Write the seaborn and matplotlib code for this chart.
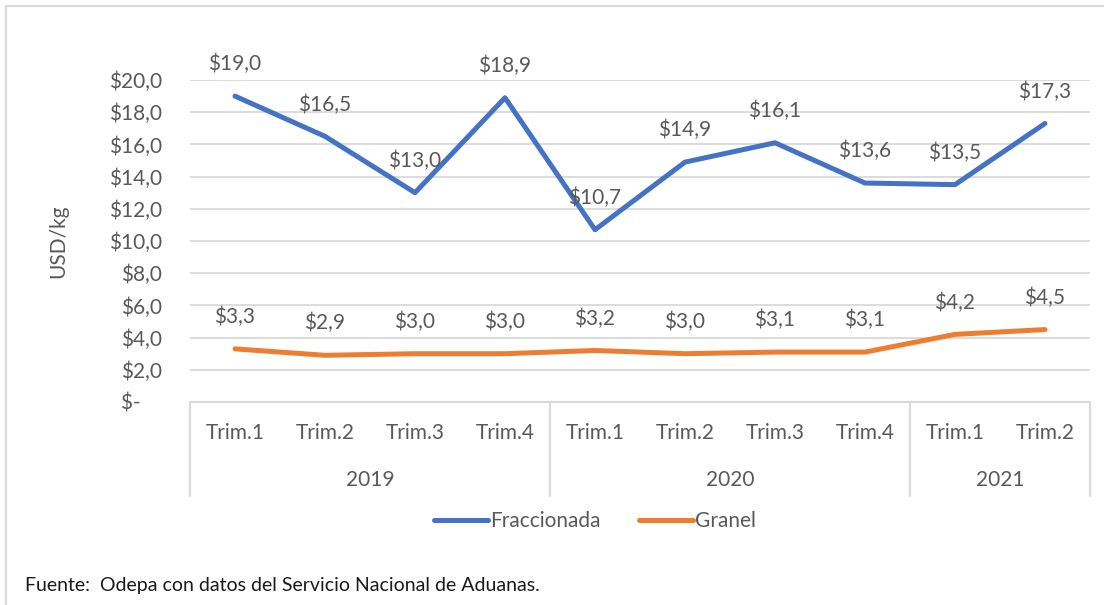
import matplotlib
matplotlib.use("Agg")
import matplotlib.pyplot as plt
import seaborn as sns
import pandas as pd
from matplotlib.lines import Line2D

# ---- data ----
quarters = ["Trim.1", "Trim.2", "Trim.3", "Trim.4",
            "Trim.1", "Trim.2", "Trim.3", "Trim.4",
            "Trim.1", "Trim.2"]
years = ["2019", "2020", "2021"]
year_sizes = [4, 4, 2]
fraccionada = [19.0, 16.5, 13.0, 18.9, 10.7, 14.9, 16.1, 13.6, 13.5, 17.3]
granel = [3.3, 2.9, 3.0, 3.0, 3.2, 3.0, 3.1, 3.1, 4.2, 4.5]
series_names = ["Fraccionada", "Granel"]
colors = ["#4472C4", "#ED7D31"]
y_ticks = [0, 2, 4, 6, 8, 10, 12, 14, 16, 18, 20]

sns.set_theme(style="white")
plt.rcParams["font.family"] = ["Lato", "DejaVu Sans"]

TXT = "#595959"
GRID = "#D9D9D9"
FS = 15

W, H = 1104, 605
fig = plt.figure(figsize=(W / 100, H / 100), dpi=100)
L, R, T, B = 190, 1090, 80, 402
ax = fig.add_axes([L / W, 1 - B / H, (R - L) / W, (B - T) / H])

n = len(quarters)
df = pd.DataFrame({
    "idx": list(range(n)) * 2,
    "value": fraccionada + granel,
    "serie": [series_names[0]] * n + [series_names[1]] * n,
})
sns.lineplot(data=df, x="idx", y="value", hue="serie", palette=colors,
             linewidth=3.6, ax=ax, legend=False, zorder=3)
for ln in ax.get_lines():
    ln.set_solid_capstyle("round")
    ln.set_solid_joinstyle("round")

ax.set_xlim(-0.5, n - 0.5)
ax.set_ylim(0, 20)
ax.set_yticks(y_ticks)
ax.set_yticklabels([("$-    " if v == 0 else f"${v:.1f}".replace(".", ",")) for v in y_ticks],
                   fontsize=FS, color=TXT)
ax.tick_params(axis="y", length=0, pad=20)
ax.set_xticks([])
for v in y_ticks[1:]:
    ax.axhline(v, color=GRID, lw=1.3, zorder=1)
for s in ax.spines.values():
    s.set_visible(False)
ax.set_xlabel("")
ax.set_ylabel("USD/kg", fontsize=FS, color=TXT)
ax.yaxis.set_label_coords((68 - L) / (R - L), 0.5)

# data labels
for vals in (fraccionada, granel):
    for i, v in enumerate(vals):
        ax.annotate(f"${v:.1f}".replace(".", ","), (i, v), xytext=(0, 23),
                    textcoords="offset points", ha="center", va="center",
                    fontsize=FS, color=TXT, zorder=4)

# multi-level category axis
ph = B - T
y_bot = -(496 - B) / ph
ax.plot([-0.5, n - 0.5], [0, 0], color=GRID, lw=1.5, clip_on=False, zorder=2)
bounds = [-0.5]
for s in year_sizes:
    bounds.append(bounds[-1] + s)
for bx in bounds:
    ax.plot([bx, bx], [0, y_bot], color=GRID, lw=1.5, clip_on=False,
            transform=ax.get_xaxis_transform())
for i, q in enumerate(quarters):
    ax.text(i, -(433 - B) / ph, q, transform=ax.get_xaxis_transform(),
            ha="center", va="center", fontsize=FS, color=TXT)
for k, yname in enumerate(years):
    cx = (bounds[k] + bounds[k + 1]) / 2
    ax.text(cx, -(480 - B) / ph, yname, transform=ax.get_xaxis_transform(),
            ha="center", va="center", fontsize=FS, color=TXT)

# legend
handles = [Line2D([0], [0], color=c, lw=3.6, solid_capstyle="round") for c in colors]
fig.legend(handles, series_names, loc="center", bbox_to_anchor=(595 / W, 1 - 521 / H),
           ncol=2, frameon=False, fontsize=FS, handlelength=2.6, handletextpad=0.1,
           columnspacing=1.8, labelcolor=TXT)

# footnote
fig.text(25 / W, 1 - 585 / H, "Fuente:  Odepa con datos del Servicio Nacional de Aduanas.",
         fontsize=14, color="#1a1a1a", ha="left", va="center")

# chart border (top and left)
fig.add_artist(Line2D([6 / W, 6 / W], [0, 1 - 6 / H], color=GRID, lw=1.5,
                      transform=fig.transFigure))
fig.add_artist(Line2D([6 / W, 1], [1 - 6 / H, 1 - 6 / H], color=GRID, lw=1.5,
                      transform=fig.transFigure))

fig.savefig("out.png", dpi=100)
